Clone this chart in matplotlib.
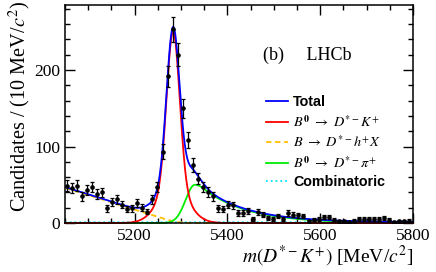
import matplotlib
matplotlib.use('Agg')
import matplotlib.pyplot as plt
import numpy as np
from matplotlib.lines import Line2D
from matplotlib.ticker import MultipleLocator

plt.rcParams['font.family'] = ['Liberation Serif', 'DejaVu Serif']
plt.rcParams['mathtext.fontset'] = 'stix'

# Daten
m_first = 5054.0
m_step = 10.85
counts = [49, 46, 49, 35, 43, 47, 38, 40, 19, 27, 31, 24, 18, 19, 26, 20, 15, 31, 47, 93,
          192, 253, 220, 150, 108, 76, 58, 47, 41, 35, 19, 18, 24, 23, 13, 13, 16, 5, 14, 11,
          7, 5, 9, 5, 13, 11, 10, 9, 2, 4, 5, 8, 8, 4, 2, 2, 1, 3, 5, 5,
          5, 5, 5, 7, 4, 1, 2, 2, 3]

sig_mean, sig_a1, sig_s1, sig_a2, sig_s2 = 5283.0, 205.0, 14.0, 45.0, 32.0
part_slope, part_end, part_soft = 0.19, 5292.0, 10.0
mis_mean, mis_a, mis_sl, mis_sr, mis_tau = 5330.0, 50.0, 20.0, 40.0, 95.0
comb_level = 1.0

counts = np.array(counts, dtype=float)
mass = m_first + m_step * np.arange(len(counts))
err = np.sqrt(counts)

x = np.linspace(5050, 5800, 1500)

def signal(m):
    d = m - sig_mean
    return sig_a1 * np.exp(-d**2 / (2 * sig_s1**2)) + sig_a2 * np.exp(-d**2 / (2 * sig_s2**2))

def partreco(m):
    return part_slope * part_soft * np.log1p(np.exp((part_end - m) / part_soft))

def misid(m):
    d = m - mis_mean
    k = mis_sr / mis_tau
    left = np.exp(-d**2 / (2 * mis_sl**2))
    core = np.exp(-d**2 / (2 * mis_sr**2))
    tail = np.exp(k**2 / 2 - k * d / mis_sr)
    right = np.where(d / mis_sr < k, core, tail)
    return mis_a * np.where(d < 0, left, right)

def comb(m):
    return np.full_like(m, comb_level)

total = signal(x) + partreco(x) + misid(x) + comb(x)

fig = plt.figure(figsize=(4.36, 2.72), dpi=100)
ax = fig.add_axes([65 / 436, 49 / 272, 348 / 436, 218 / 272])

lw = 1.3
ax.plot(x, comb(x), color='#00e5ff', ls=':', lw=lw, clip_on=False)
ax.plot(x, partreco(x), color='#ffc000', ls='--', lw=lw, dashes=(3, 2), clip_on=False)
ax.plot(x, misid(x), color='#00ee00', lw=lw, clip_on=False)
ax.plot(x, signal(x), color='#ff0000', lw=lw, clip_on=False)
ax.plot(x, total, color='#0000ff', lw=lw)

ax.errorbar(mass, counts, yerr=err, fmt='o', color='black', ms=2.3, elinewidth=0.9,
            capsize=1.3, capthick=0.9, zorder=5)

ax.set_xlim(5050, 5800)
ax.set_ylim(0, 285)
ax.xaxis.set_major_locator(MultipleLocator(200))
ax.xaxis.set_minor_locator(MultipleLocator(50))
ax.yaxis.set_major_locator(MultipleLocator(100))
ax.yaxis.set_minor_locator(MultipleLocator(20))
ax.tick_params(which='both', direction='in', top=True, right=True, labelsize=12.5, width=1.0)
ax.tick_params(which='major', length=7)
ax.tick_params(which='minor', length=3.5)
for s in ax.spines.values():
    s.set_linewidth(1.1)

ax.set_xlabel(r'$m(D^{*-}K^{+})$ [MeV/$c^{2}$]', fontsize=14, ha='right', x=1.0, labelpad=0)
ax.set_ylabel(r'Candidates / (10 MeV/$c^{2}$)', fontsize=14.6, ha='right', y=1.02, labelpad=1)

ax.text(0.569, 0.77, '(b)     LHCb', transform=ax.transAxes, fontsize=13, va='center')

handles = [Line2D([], [], color='#0000ff', lw=lw),
           Line2D([], [], color='#ff0000', lw=lw),
           Line2D([], [], color='#ffc000', ls='--', lw=lw, dashes=(3, 2)),
           Line2D([], [], color='#00ee00', lw=lw),
           Line2D([], [], color='#00e5ff', ls=':', lw=lw)]
labels = ['Total',
          r'$B^{\mathbf{0}}\ \rightarrow\ D^{*-}K^{+}$',
          r'$B\ \rightarrow\ D^{*-}h^{+}X$',
          r'$B^{\mathbf{0}}\ \rightarrow\ D^{*-}\pi^{+}$',
          'Combinatoric']
leg = ax.legend(handles, labels, loc='upper left', bbox_to_anchor=(0.578, 0.585), frameon=False,
                fontsize=10.3, handlelength=1.55, handletextpad=0.35, labelspacing=0.32,
                borderpad=0, borderaxespad=0)
for i in (0, 4):
    leg.get_texts()[i].set_fontfamily(['Liberation Sans', 'DejaVu Sans'])
    leg.get_texts()[i].set_fontweight('bold')

plt.savefig('out.png', dpi=100)
